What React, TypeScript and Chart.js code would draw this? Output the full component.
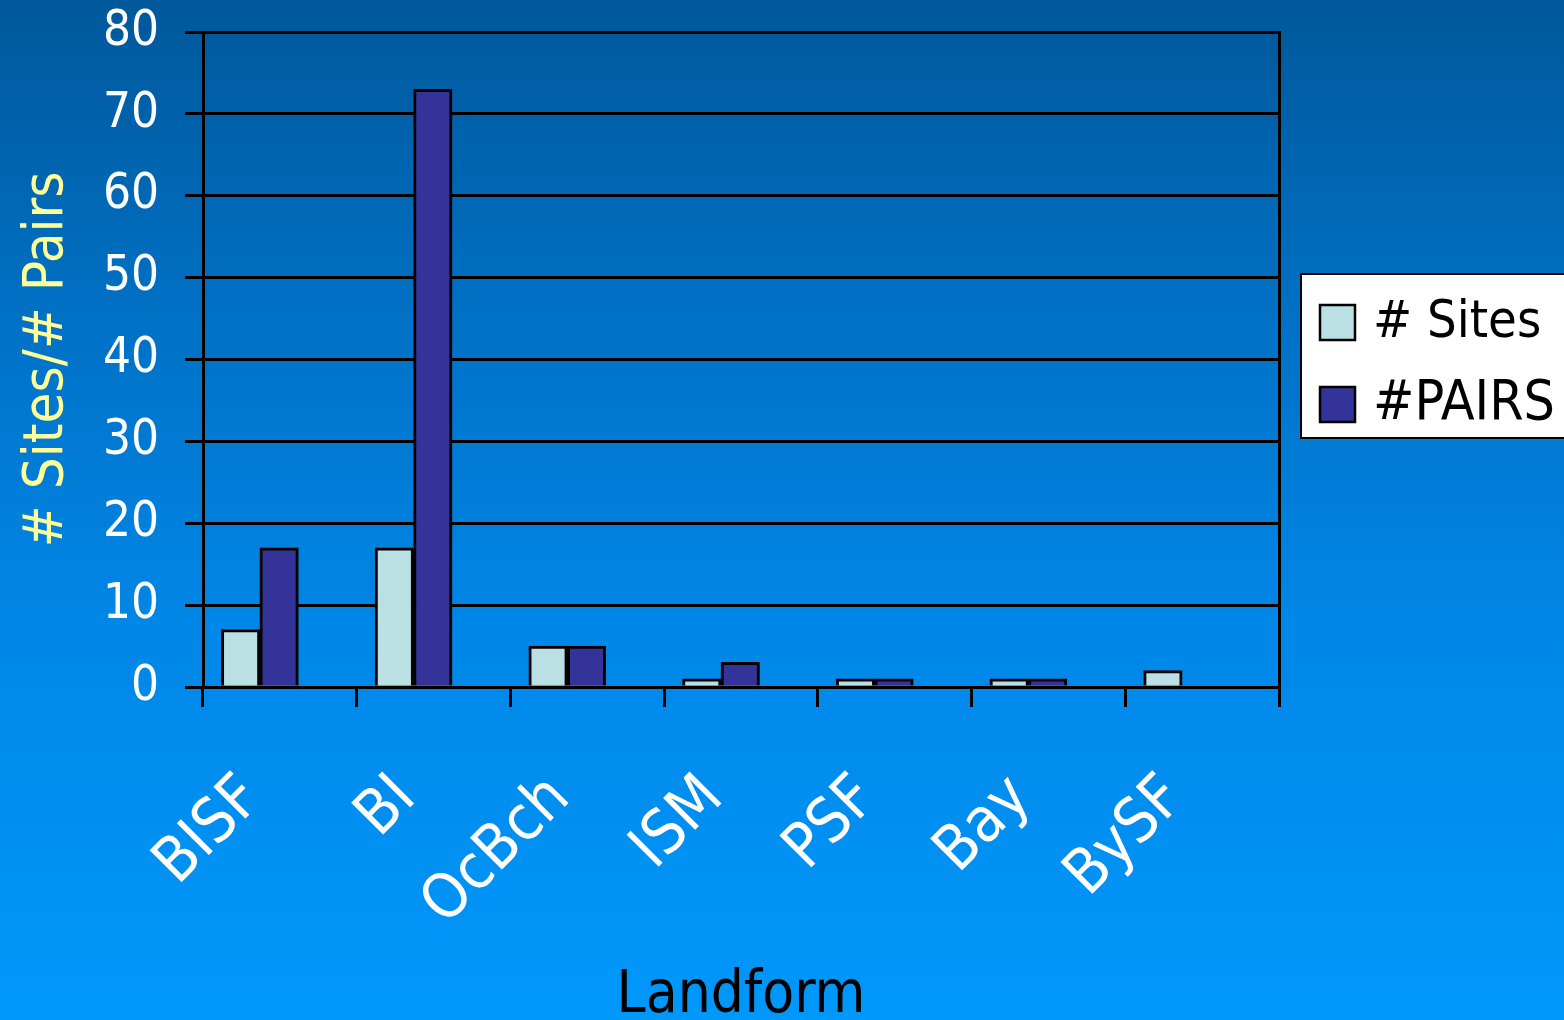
import React, { useEffect, useRef } from "react";
import { Chart, registerables } from "chart.js";

Chart.register(...registerables);

const categories = ["BISF", "BI", "OcBch", "ISM", "PSF", "Bay", "BySF"];
const sitesValues = [7, 17, 5, 1, 1, 1, 2];
const pairsValues = [17, 73, 5, 3, 1, 1, 0];
const seriesNames = ["# Sites", "#PAIRS"];
const yTitle = "# Sites/# Pairs";
const xTitle = "Landform";

const FONT = "'DejaVu Sans Condensed', 'DejaVu Sans', sans-serif";
// bars in the original sit a little left of each category centre
const BAR_SHIFT = 0.13;

const bgPlugin = {
  id: "bgGradient",
  beforeDraw(chart: any) {
    const { ctx, width, height } = chart;
    ctx.save();
    const g = ctx.createLinearGradient(0, 0, 0, height);
    g.addColorStop(0, "#00589a");
    g.addColorStop(0.3, "#0070c4");
    g.addColorStop(0.6, "#0086e6");
    g.addColorStop(1, "#0098fb");
    ctx.fillStyle = g;
    ctx.fillRect(0, 0, width, height);
    ctx.restore();
  },
};

const legendPlugin = {
  id: "boxLegend",
  afterDraw(chart: any) {
    const { ctx } = chart;
    const ds = chart.data.datasets;
    ctx.save();
    const bx = 1301, by = 274, bw = 280, bh = 164;
    ctx.fillStyle = "#ffffff";
    ctx.fillRect(bx, by, bw, bh);
    ctx.lineWidth = 2;
    ctx.strokeStyle = "#000000";
    ctx.strokeRect(bx, by, bw, bh);
    ds.forEach((d: any, i: number) => {
      const cy = 322 + i * 82;
      ctx.fillStyle = d.backgroundColor;
      ctx.fillRect(1320, cy - 17, 35, 35);
      ctx.lineWidth = 2.5;
      ctx.strokeStyle = "#000000";
      ctx.strokeRect(1320, cy - 17, 35, 35);
      ctx.fillStyle = "#000000";
      ctx.font = `${i === 0 ? 52 : 55}px ${FONT}`;
      ctx.textBaseline = "middle";
      ctx.textAlign = "left";
      ctx.fillText(d.label, 1373, cy + 1);
    });
    ctx.restore();
  },
};

export default function App() {
  const ref = useRef<HTMLCanvasElement | null>(null);
  useEffect(() => {
    document.body.style.margin = "0";
    const canvas = ref.current!;
    const chart = new Chart(canvas, {
      type: "bar",
      data: {
        labels: categories,
        datasets: [
          {
            label: seriesNames[0],
            data: sitesValues.map((v, i) => ({ x: i, y: v })),
            xAxisID: "xb",
            backgroundColor: "#bbe0e3",
            borderColor: "#000000",
            borderWidth: 3,
            barThickness: 38.5,
          },
          {
            label: seriesNames[1],
            data: pairsValues.map((v, i) => ({ x: i, y: v })),
            xAxisID: "xb",
            backgroundColor: "#333399",
            borderColor: "#000000",
            borderWidth: 3,
            barThickness: 38.5,
          },
        ],
      },
      options: {
        responsive: false,
        animation: false,
        layout: { padding: { top: 32, right: 285, bottom: 0, left: 0 } },
        plugins: {
          legend: { display: false },
          tooltip: { enabled: false },
        },
        scales: {
          xb: {
            type: "linear",
            position: "bottom",
            display: false,
            offset: false,
            grid: { offset: false },
            min: -0.5 + BAR_SHIFT,
            max: categories.length - 0.5 + BAR_SHIFT,
          },
          x: {
            type: "category",
            position: "bottom",
            offset: true,
            grid: {
              offset: true,
              drawOnChartArea: false,
              drawTicks: true,
              tickLength: 20,
              color: "#000000",
              lineWidth: 3,
            },
            border: { display: true, color: "#000000", width: 3 },
            ticks: {
              color: "#ffffff",
              font: { family: FONT, size: 62 },
              minRotation: 45,
              maxRotation: 45,
              autoSkip: false,
              padding: 55,
              labelOffset: -27,
            },
            title: {
              display: true,
              text: xTitle,
              color: "#000000",
              font: { family: FONT, size: 58, lineHeight: 0.8 },
              padding: { top: 0, bottom: 0 },
            },
            afterFit(scale: any) {
              scale.height = 333;
              scale.paddingLeft = 0;
              scale.paddingRight = 0;
            },
          },
          y: {
            min: 0,
            max: 80,
            ticks: {
              stepSize: 10,
              color: "#ffffff",
              font: { family: FONT, size: 49 },
              padding: 26,
            },
            grid: {
              color: "#000000",
              lineWidth: 3,
              tickLength: 18,
            },
            border: { display: true, color: "#000000", width: 3 },
            title: {
              display: true,
              text: yTitle,
              color: "#ffff99",
              font: { family: FONT, size: 56, lineHeight: 1.7 },
              padding: 0,
            },
            afterFit(scale: any) {
              scale.width = 203;
              scale.paddingTop = 0;
              scale.paddingBottom = 0;
            },
          },
          y2: {
            position: "right",
            display: true,
            ticks: { display: false },
            grid: { drawOnChartArea: false, drawTicks: false },
            border: { display: true, color: "#000000", width: 3 },
            afterFit(scale: any) {
              scale.width = 0;
              scale.paddingTop = 0;
              scale.paddingBottom = 0;
            },
          },
        },
      },
      plugins: [bgPlugin, legendPlugin],
    });
    return () => chart.destroy();
  }, []);
  return (
    <canvas
      ref={ref}
      width={1564}
      height={1020}
      style={{ display: "block", width: 1564, height: 1020 }}
    />
  );
}
